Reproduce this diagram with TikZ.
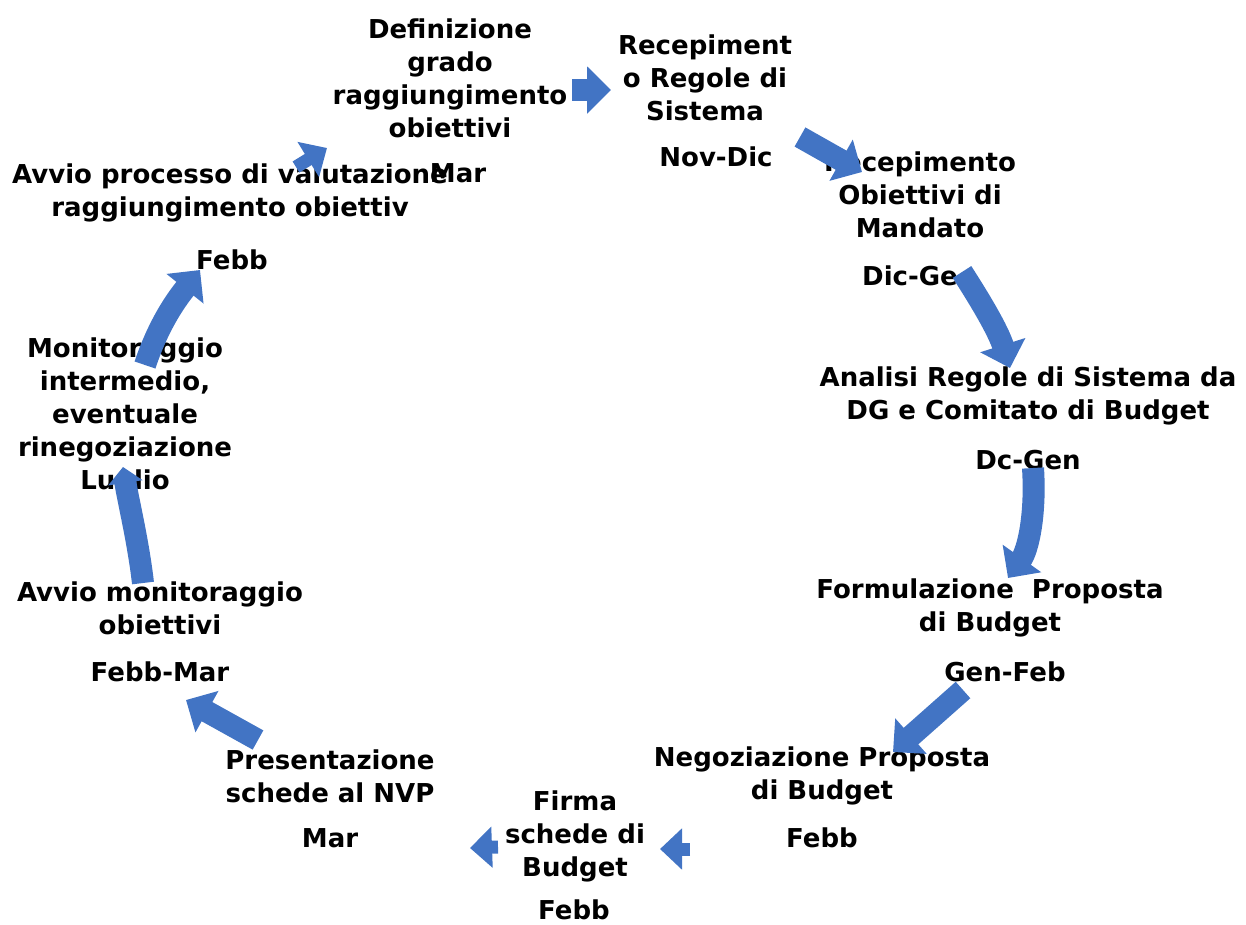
\documentclass[tikz,border=0pt]{standalone}
\usepackage{fontspec}
\setmainfont{DejaVu Sans}
\usepackage{xcolor}
\usetikzlibrary{arrows.meta}
\definecolor{cycblue}{RGB}{66,116,196}
\tikzset{
  phase/.style={font=\bfseries\fontsize{26}{33}\selectfont, align=center, inner sep=0pt},
  bigarr/.style={cycblue, line width=22pt, -{Triangle[width=46pt,length=24pt]}},
  smallarr/.style={cycblue, line width=13pt, -{Triangle[width=40pt,length=22pt]}}
}

\begin{document}
\begin{tikzpicture}[x=1pt,y=-1pt]
\useasboundingbox (0,0) rectangle (1246,924);
% phases of the budget cycle
\node[phase] (defin) at (450,78) {Definizione\\grado\\raggiungimento\\obiettivi};
\node[phase] (defdate) at (458,173) {Mar};
\node[phase] (recreg) at (705,78) {Recepiment\\o Regole di\\Sistema};
\node[phase] (regdate) at (716,157) {Nov-Dic};
\node[phase] (recobi) at (920,195) {Recepimento\\Obiettivi di\\Mandato};
\node[phase] (obidate) at (910,276) {Dic-Ge};
\node[phase] (analisi) at (1028,396) {Analisi Regole di Sistema da\\DG e Comitato di Budget};
\node[phase] (anadate) at (1028,460) {Dc-Gen};
\node[phase] (formul) at (990,608) {Formulazione~~Proposta\\di Budget};
\node[phase] (formdate) at (1005,672) {Gen-Feb};
\node[phase] (negoz) at (822,776) {Negoziazione Proposta\\di Budget};
\node[phase] (negdate) at (822,838) {Febb};
\node[phase] (firma) at (575,836) {Firma\\schede di\\Budget};
\node[phase] (firmdate) at (574,910) {Febb};
\node[phase] (present) at (330,776) {Presentazione\\schede al NVP};
\node[phase] (presdate) at (330,838) {Mar};
\node[phase] (avvmon) at (160,608) {Avvio monitoraggio\\obiettivi};
\node[phase] (avvdate) at (160,672) {Febb-Mar};
\node[phase] (monint) at (125,416) {Monitoraggio\\intermedio,\\eventuale\\rinegoziazione\\Luglio};
\node[phase] (avvval) at (230,193) {Avvio processo di valutazione\\raggiungimento obiettiv};
\node[phase] (valdate) at (232,260) {Febb};
% arrow ends
\coordinate (a1s) at (572,90);   \coordinate (a1e) at (611,90);
\coordinate (a2s) at (800,137);  \coordinate (a2e) at (862,172);
\coordinate (a3s) at (962,272);  \coordinate (a3e) at (1010,368);
\coordinate (a4s) at (1033,468); \coordinate (a4e) at (1008,578);
\coordinate (a5s) at (963,690);  \coordinate (a5e) at (893,752);
\coordinate (a6s) at (690,849);  \coordinate (a6e) at (660,849);
\coordinate (a7s) at (498,847);  \coordinate (a7e) at (470,848);
\coordinate (a8s) at (258,740);  \coordinate (a8e) at (186,700);
\coordinate (a9s) at (143,583);  \coordinate (a9e) at (123,467);
\coordinate (a10s) at (145,365); \coordinate (a10e) at (200,270);
\coordinate (a11s) at (296,167); \coordinate (a11e) at (327,148);
% arrows
\draw[bigarr] (a1s) -- (a1e);
\draw[bigarr] (a2s) -- (a2e);
\draw[bigarr] (a3s) .. controls (980,300) and (998,330) .. (a3e);
\draw[bigarr] (a4s) .. controls (1036,515) and (1028,550) .. (a4e);
\draw[bigarr] (a5s) -- (a5e);
\draw[smallarr] (a6s) -- (a6e);
\draw[smallarr] (a7s) -- (a7e);
\draw[bigarr] (a8s) -- (a8e);
\draw[bigarr, -{Triangle[width=34pt,length=16pt]}] (a9s) .. controls (138,540) and (128,500) .. (a9e);
\draw[bigarr] (a10s) .. controls (160,320) and (180,295) .. (a10e);
\draw[smallarr] (a11s) -- (a11e);
\end{tikzpicture}
\end{document}
